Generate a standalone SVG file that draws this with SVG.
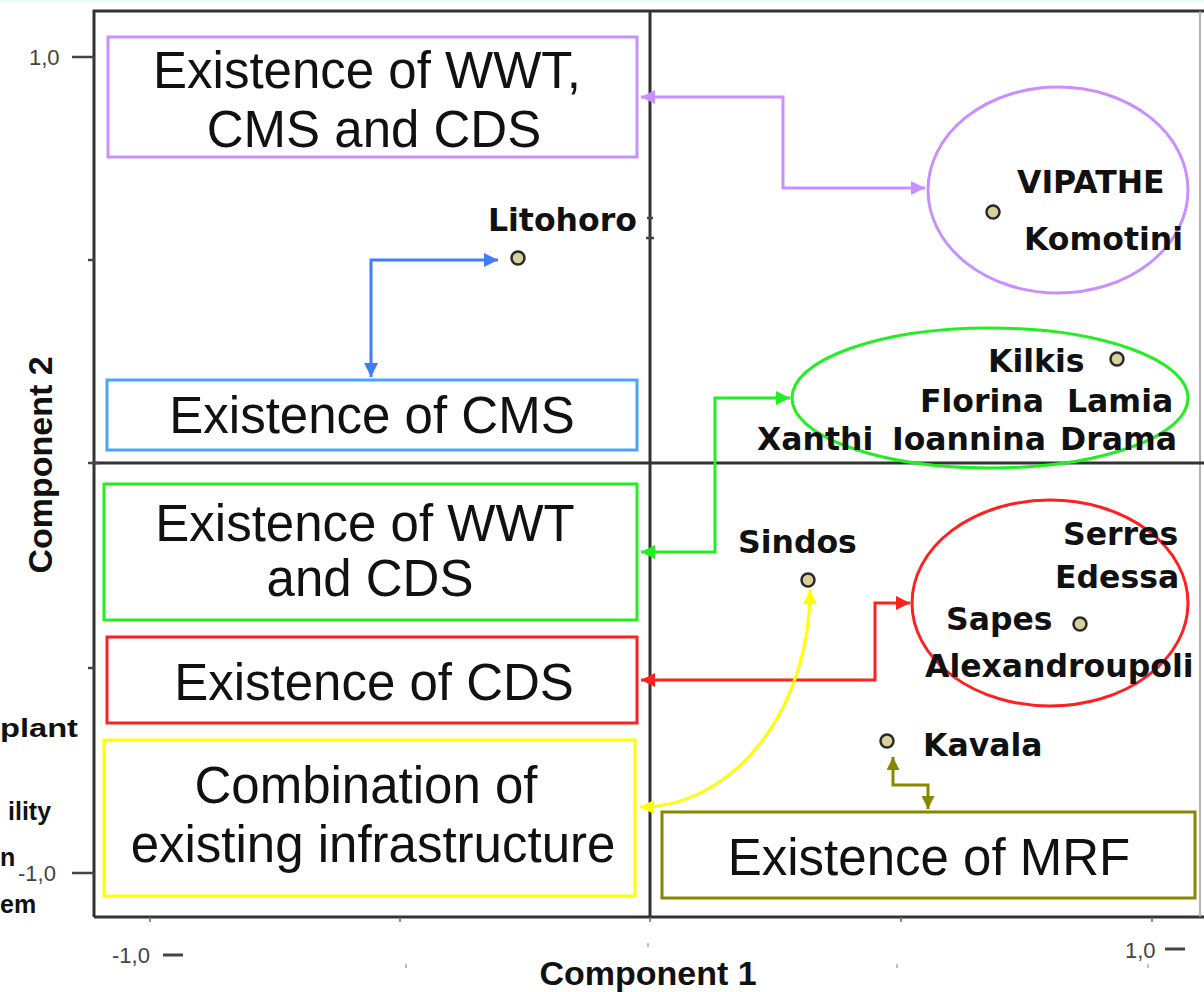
<svg xmlns="http://www.w3.org/2000/svg" width="1204" height="992" viewBox="0 0 1204 992">
<style>
.ax{stroke:#333;stroke-width:3;fill:none}
.tk{stroke:#444;stroke-width:2.5;fill:none}
.box{fill:#fff;stroke-width:3}
.bt{font-family:"Liberation Sans",Arial,sans-serif;font-size:51px;fill:#111;text-anchor:middle}
.lb{font-family:"DejaVu Sans",Verdana,sans-serif;font-weight:bold;font-size:31.5px;fill:#111}
.at{font-family:"Liberation Sans",Arial,sans-serif;font-size:22px;fill:#444}
.ttl{font-family:"Liberation Sans",Arial,sans-serif;font-weight:bold;font-size:34px;fill:#111;text-anchor:middle}
.cut{font-family:"Liberation Sans",Arial,sans-serif;font-weight:bold;font-size:25px;fill:#111}
.dot{fill:#d8d29a;stroke:#2a2a2a;stroke-width:2.5}
.ell{fill:none;stroke-width:3}
.cn{fill:none;stroke-width:3}
</style>
<defs>
<marker id="mP" viewBox="0 0 10 10" refX="10" refY="5" markerWidth="16" markerHeight="14" markerUnits="userSpaceOnUse" orient="auto-start-reverse"><path d="M0,0 L10,5 L0,10 z" fill="#c890ff"/></marker>
<marker id="mB" viewBox="0 0 10 10" refX="10" refY="5" markerWidth="16" markerHeight="14" markerUnits="userSpaceOnUse" orient="auto-start-reverse"><path d="M0,0 L10,5 L0,10 z" fill="#3f7dff"/></marker>
<marker id="mG" viewBox="0 0 10 10" refX="10" refY="5" markerWidth="16" markerHeight="14" markerUnits="userSpaceOnUse" orient="auto-start-reverse"><path d="M0,0 L10,5 L0,10 z" fill="#22ee22"/></marker>
<marker id="mR" viewBox="0 0 10 10" refX="10" refY="5" markerWidth="16" markerHeight="14" markerUnits="userSpaceOnUse" orient="auto-start-reverse"><path d="M0,0 L10,5 L0,10 z" fill="#ff2020"/></marker>
<marker id="mY" viewBox="0 0 10 10" refX="10" refY="5" markerWidth="16" markerHeight="14" markerUnits="userSpaceOnUse" orient="auto-start-reverse"><path d="M0,0 L10,5 L0,10 z" fill="#ffff00"/></marker>
<marker id="mO" viewBox="0 0 10 10" refX="10" refY="5" markerWidth="13" markerHeight="13" markerUnits="userSpaceOnUse" orient="auto-start-reverse"><path d="M0,0 L10,5 L0,10 z" fill="#888800"/></marker>
</defs>
<rect x="0" y="0" width="1204" height="992" fill="#fff"/>
<rect x="0" y="0" width="1204" height="2" fill="#e6fbfb"/>

<g id="axes">
<path class="ax" d="M94 917 V11 H1204"/>
<path class="ax" d="M94 917 H1204"/>
<path d="M1200 11 V917" stroke="#9a9a9a" stroke-width="1.5"/>
<path class="ax" d="M650 11 V917"/>
<path class="ax" d="M94 463 H1204"/>
<path class="tk" d="M72 57 H94 M72 873 H94 M88 260 H94 M88 668 H94 M88 463 H100 M646 238 H654 M647 218 H653"/>
<path d="M150 917 V922 M400 917 V922 M650 917 V922 M901 917 V922 M1152 917 V922" stroke="#666" stroke-width="1.5"/>
<path d="M406 964 V968 M648 943 V947 M897 964 V968 M1148 964 V968" stroke="#aaa" stroke-width="1.5"/>
<text class="at" x="29" y="65" font-size="23">1,0</text>
<text class="at" x="18" y="881" font-size="23">-1,0</text>
<text class="at" x="112" y="963" font-size="21">-1,0</text>
<path d="M163 955 H183" stroke="#444" stroke-width="3"/>
<text class="at" x="1125" y="958" font-size="21">1,0</text>
<path d="M1165 949 H1185" stroke="#444" stroke-width="3"/>
<text class="ttl" x="648" y="985">Component 1</text>
<text class="ttl" transform="translate(52 465) rotate(-90)">Component 2</text>
</g>

<g id="cut-text">
<text class="cut" x="0" y="737" textLength="78" lengthAdjust="spacingAndGlyphs">plant</text>
<text class="cut" x="8" y="820">ility</text>
<text class="cut" x="0" y="866">n</text>
<text class="cut" x="0" y="913">em</text>
</g>

<g id="connectors">
<path class="cn" stroke="#c890ff" d="M925 188 H783 V97 H641" marker-start="url(#mP)" marker-end="url(#mP)"/>
<path class="cn" stroke="#3f7dff" d="M371 377 V260 H498" marker-start="url(#mB)" marker-end="url(#mB)"/>
<path class="cn" stroke="#22ee22" d="M641 552 H715 V398 H790" marker-start="url(#mG)" marker-end="url(#mG)"/>
<path class="cn" stroke="#ff2020" d="M641 680 H875 V603 H910" marker-start="url(#mR)" marker-end="url(#mR)"/>
<path class="cn" stroke="#ffff00" d="M640 807 A170 217 0 0 0 810 590" marker-start="url(#mY)" marker-end="url(#mY)"/>
<path class="cn" stroke="#888800" d="M893 757 V785 H928 V809" marker-start="url(#mO)" marker-end="url(#mO)"/>
</g>

<g id="box-wwt-cms-cds">
<rect class="box" x="108" y="37" width="529" height="120" stroke="#c890ff"/>
<text class="bt" x="367" y="88" font-size="52">Existence of WWT,</text>
<text class="bt" x="374" y="147" font-size="52">CMS and CDS</text>
</g>
<g id="box-cms">
<rect class="box" x="107" y="380" width="530" height="70" stroke="#4aa3ff"/>
<text class="bt" x="372" y="433">Existence of CMS</text>
</g>
<g id="box-wwt-cds">
<rect class="box" x="104" y="484" width="533" height="136" stroke="#22ee22"/>
<text class="bt" x="365" y="541" font-size="45">Existence of WWT</text>
<text class="bt" x="370" y="596" font-size="45">and CDS</text>
</g>
<g id="box-cds">
<rect class="box" x="107" y="637" width="530" height="86" stroke="#ff2020"/>
<text class="bt" x="374" y="700">Existence of CDS</text>
</g>
<g id="box-combination">
<rect class="box" x="104" y="740" width="531" height="156" stroke="#ffff00"/>
<text class="bt" x="366" y="803">Combination of</text>
<text class="bt" x="373" y="862">existing infrastructure</text>
</g>
<g id="box-mrf">
<rect class="box" x="662" y="812" width="533" height="86" stroke="#888800"/>
<text class="bt" x="929" y="875">Existence of MRF</text>
</g>

<g id="group-purple">
<ellipse class="ell" cx="1058" cy="190" rx="130" ry="103" stroke="#c890ff"/>
<circle class="dot" cx="993" cy="212" r="6.5"/>
<text class="lb" x="1017" y="193">VIPATHE</text>
<text class="lb" x="1024" y="250">Komotini</text>
</g>
<g id="group-green">
<ellipse class="ell" cx="990" cy="398" rx="198" ry="70" stroke="#22ee22"/>
<circle class="dot" cx="1117" cy="359" r="6.5"/>
<text class="lb" x="988" y="372">Kilkis</text>
<text class="lb" x="920" y="412">Florina</text>
<text class="lb" x="1067" y="412">Lamia</text>
<text class="lb" x="757" y="450">Xanthi</text>
<text class="lb" x="892" y="450">Ioannina</text>
<text class="lb" x="1060" y="450">Drama</text>
</g>
<g id="group-red">
<ellipse class="ell" cx="1050" cy="603" rx="138" ry="103" stroke="#ff2020"/>
<circle class="dot" cx="1080" cy="624" r="6.5"/>
<text class="lb" x="1063" y="545">Serres</text>
<text class="lb" x="1055" y="588">Edessa</text>
<text class="lb" x="946" y="630">Sapes</text>
<text class="lb" x="925" y="677">Alexandroupoli</text>
</g>
<g id="point-litohoro">
<circle class="dot" cx="518" cy="258" r="6.5"/>
<text class="lb" x="488" y="231">Litohoro</text>
</g>
<g id="point-sindos">
<circle class="dot" cx="808" cy="580" r="6.5"/>
<text class="lb" x="738" y="553">Sindos</text>
</g>
<g id="point-kavala">
<circle class="dot" cx="887" cy="741" r="6.5"/>
<text class="lb" x="923" y="756">Kavala</text>
</g>
</svg>
